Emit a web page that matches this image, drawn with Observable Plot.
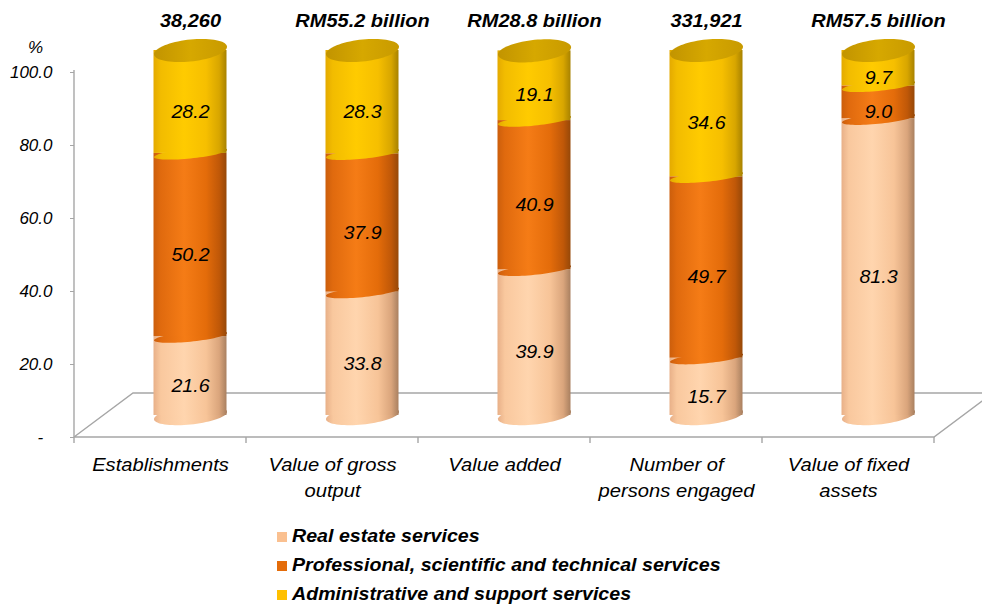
<!DOCTYPE html>
<html><head><meta charset="utf-8">
<script src="https://cdn.jsdelivr.net/npm/d3@7"></script>
<script src="https://cdn.jsdelivr.net/npm/@observablehq/plot@0.6"></script>
<style>
body{margin:0;background:#fff;font-family:"Liberation Sans",Arial,sans-serif;}
#chart svg{display:block;}
#legend{padding:7px 0 0 277px;}
.row{height:29px;display:flex;align-items:center;font:italic bold 18px "Liberation Sans",Arial,sans-serif;color:#000;}
.row span{display:inline-block;transform:scaleX(1.09);transform-origin:left center;white-space:nowrap;}
.sw{width:10px;height:10px;margin-right:5px;flex:none;}
</style></head><body><div id="chart"></div><div id="legend"></div>
<script>
const categories = ["Establishments", "Value of gross\noutput", "Value added", "Number of\npersons engaged", "Value of fixed\nassets"];
const totals = ["38,260", "RM55.2 billion", "RM28.8 billion", "331,921", "RM57.5 billion"];
const seriesNames = ["Real estate services", "Professional, scientific and technical services", "Administrative and support services"];
const realEstate = [21.6, 33.8, 39.9, 15.7, 81.3];
const professional = [50.2, 37.9, 40.9, 49.7, 9.0];
const administrative = [28.2, 28.3, 19.1, 34.6, 9.7];
const yTicks = [0, 20, 40, 60, 80, 100];

const seriesColors = ["#FAC090", "#E46C0A", "#FFC000"];
const seriesValues = [realEstate, professional, administrative];

const rows = [];
categories.forEach((cat, i) => {
  let acc = 0;
  seriesValues.forEach((vals, s) => {
    rows.push({cat, s, value: vals[i], y1: acc, y2: acc + vals[i]});
    acc += vals[i];
  });
});

const DX = 30, DY = -22;
function ellipseSymbol(a, b, k) {
  return {draw(ctx) {
    const n = 72;
    for (let j = 0; j <= n; j++) {
      const t = 2 * Math.PI * j / n;
      const x = a * Math.cos(t), y = b * Math.sin(t) + k * x;
      j ? ctx.lineTo(x, y) : ctx.moveTo(x, y);
    }
    ctx.closePath();
  }};
}
const capEllipse = ellipseSymbol(36.5, 11, -0.1);
const baseEllipse = ellipseSymbol(36.5, 9, -0.1);
const seamEllipse = ellipseSymbol(36.5, 5, -0.1);

function floor(index, scales, values, dims) {
  const y0 = scales.y(0), T = scales.y(100);
  const L = dims.marginLeft, R = dims.width - dims.marginRight;
  const g = d3.create("svg:g").attr("fill", "none").attr("stroke", "#a6a6a6").attr("stroke-width", 1.4);
  g.append("path").attr("d", `M${L},${y0}L${L + 59},${y0 - 44}L${R + 59},${y0 - 44}M${L},${y0}L${R},${y0}L${R + 59},${y0 - 44}`);
  g.append("path").attr("d", `M${L},${T - 2}L${L},${y0}`);
  const xs = categories.map(c => scales.x(c)).concat([R]);
  g.append("path").attr("d", xs.map(x => `M${x},${y0}v6`).join(""));
  return g.node();
}

const marks = [floor];
seriesValues.forEach((_, s) => {
  const d = rows.filter(r => r.s === s);
  marks.push(Plot.dot(d, {x: "cat", y: "y1", symbol: s === 0 ? baseEllipse : seamEllipse, fill: `url(#g${s})`, stroke: "none", dx: DX, dy: DY}));
  marks.push(Plot.barY(d, {x: "cat", y1: "y1", y2: "y2", fill: `url(#g${s})`, insetLeft: 49.5, insetRight: 49.5, dx: DX, dy: DY}));
});
marks.push(Plot.dot(rows.filter(r => r.s === 2), {x: "cat", y: "y2", symbol: capEllipse, fill: "url(#gTop)", stroke: "none", dx: DX, dy: DY}));
marks.push(Plot.text(rows, {x: "cat", y: d => (d.y1 + d.y2) / 2, text: d => d.value.toFixed(1), dx: DX, dy: DY + 10, fontSize: 18, fontStyle: "italic", fill: "#000", ariaDescription: "values"}));
marks.push(Plot.text(categories, {x: d => d, text: (d, i) => totals[i], frameAnchor: "top", lineAnchor: "middle", dx: DX, dy: -51, fontSize: 18, fontWeight: "bold", fontStyle: "italic", fill: "#000", ariaDescription: "totals"}));
marks.push(Plot.text(["%"], {text: d => d, frameAnchor: "top-left", textAnchor: "middle", lineAnchor: "middle", dx: -39, dy: -25, fontSize: 17, fontStyle: "italic", fill: "#000"}));
marks.push(Plot.axisY({ticks: yTicks, tickFormat: d => d === 0 ? "-\u2007" : d.toFixed(1), tickSize: 4, tickPadding: 18, fontSize: 17, fontStyle: "italic", stroke: "#a6a6a6", fill: "#000", label: null}));
marks.push(Plot.axisX({tickSize: 0, tickPadding: 16, fontSize: 18, fontStyle: "italic", lineHeight: 1.4, fill: "#000", label: null}));

const svg = Plot.plot({
  width: 982, height: 515,
  marginLeft: 74, marginRight: 48, marginTop: 72, marginBottom: 78,
  style: {fontFamily: "'Liberation Sans', Arial, sans-serif", background: "#fff", overflow: "visible"},
  x: {type: "band", domain: categories, padding: 0},
  y: {domain: [0, 100]},
  marks
});

const grads = {
  g0: [[0, "#E8B088"], [0.1, "#F9C89E"], [0.42, "#FFD5AE"], [0.72, "#F7C498"], [0.9, "#DAA57C"], [1, "#A98060"]],
  g1: [[0, "#CC5E0C"], [0.1, "#E06A0E"], [0.42, "#F57C16"], [0.72, "#E46C0A"], [0.9, "#C05808"], [1, "#964808"]],
  g2: [[0, "#E4AA00"], [0.1, "#F2BC00"], [0.42, "#FFCB00"], [0.72, "#F6BF00"], [0.9, "#D8A600"], [1, "#A88200"]],
  gTop: [[0, "#C29400"], [0.5, "#D6A800"], [1, "#C89A00"]]
};
const defs = d3.select(svg).insert("defs", ":first-child");
for (const [id, stops] of Object.entries(grads)) {
  const lg = defs.append("linearGradient").attr("id", id).attr("x1", 0).attr("x2", 1).attr("y1", 0).attr("y2", 0);
  stops.forEach(([o, c]) => lg.append("stop").attr("offset", o).attr("stop-color", c));
}
document.getElementById("chart").append(svg);

function stretch(groups, f) {
  groups.forEach(g => g.querySelectorAll("text").forEach(t => {
    const parts = t.querySelectorAll("tspan");
    (parts.length ? Array.from(parts) : [t]).forEach(p => {
      const len = p.getComputedTextLength();
      if (len > 0) {
        p.setAttribute("textLength", (len * f).toFixed(1));
        p.setAttribute("lengthAdjust", "spacingAndGlyphs");
      }
    });
  }));
}
const textGroups = Array.from(svg.querySelectorAll('g[aria-label="text"]'));
const byDesc = d => Array.from(svg.querySelectorAll(`g[aria-description="${d}"]`));
stretch(Array.from(svg.querySelectorAll('g[aria-label="x-axis tick label"]')), 1.12);
stretch(byDesc("values").length ? byDesc("values") : textGroups.slice(0, 1), 1.09);
stretch(byDesc("totals").length ? byDesc("totals") : textGroups.slice(1, 2), 1.11);

const legend = d3.select("#legend");
seriesNames.forEach((name, s) => {
  const row = legend.append("div").attr("class", "row");
  row.append("div").attr("class", "sw").style("background", seriesColors[s]);
  row.append("span").text(name);
});
</script>
</body></html>
